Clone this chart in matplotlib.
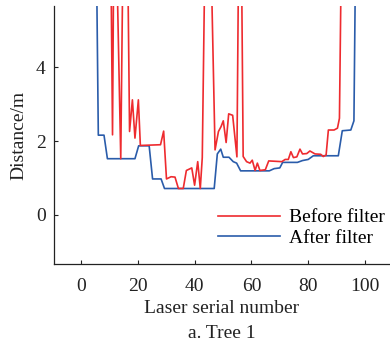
import matplotlib
matplotlib.use("Agg")
import matplotlib.pyplot as plt

plt.rcParams["font.family"] = ["Liberation Serif", "DejaVu Serif"]
plt.rcParams["font.size"] = 14

# readings; 8.0 means the trace runs off the top
before_x = [10.4, 11.1, 11.6, 12.3, 14.0, 14.9, 16.3, 17.1, 18.1, 19.0, 20.2, 20.9,
            28.0, 29.1, 30.1, 31.7, 33.1, 34.3, 36.0, 37.1, 39.0, 40.0, 41.1, 42.0,
            42.7, 43.8, 45.5, 47.2, 48.4, 49.3, 50.1, 51.1, 52.0, 53.4, 54.9, 55.6,
            56.4, 57.1, 58.3, 59.5, 60.3, 61.3, 62.1, 63.0, 64.9, 66.1, 70.7, 71.9,
            73.0, 73.9, 74.8, 76.0, 77.1, 78.0, 79.5, 80.6, 82.4, 84.4, 85.3, 86.3,
            87.1, 89.1, 90.3, 91.0, 91.8]
before_y = [8.0, 2.17, 8.0, 8.0, 1.52, 8.0, 8.0, 2.26, 3.12, 2.08, 3.12, 1.88,
            1.90, 2.27, 0.97, 1.03, 1.02, 0.71, 0.71, 1.20, 1.27, 0.80, 1.44, 0.71,
            1.55, 8.0, 8.0, 1.76, 2.26, 2.39, 2.55, 1.96, 2.74, 2.70, 1.57, 8.0,
            8.0, 1.58, 1.44, 1.40, 1.48, 1.20, 1.40, 1.20, 1.22, 1.46, 1.44, 1.50,
            1.50, 1.71, 1.55, 1.57, 1.78, 1.65, 1.66, 1.73, 1.65, 1.64, 1.58, 1.62,
            2.30, 2.30, 2.35, 2.62, 8.0]

after_x = [5.3, 6.1, 8.1, 9.3, 19.0, 20.3, 24.0, 25.2, 28.2, 29.4, 46.9, 48.0,
           49.2, 50.1, 52.1, 53.6, 54.8, 56.2, 66.3, 68.0, 70.0, 71.0, 76.2, 78.0,
           80.0, 81.8, 90.6, 92.0, 95.0, 96.1, 96.8]
after_y = [8.0, 2.16, 2.16, 1.52, 1.52, 1.87, 1.87, 0.97, 0.97, 0.71, 0.71, 1.65,
           1.78, 1.56, 1.56, 1.44, 1.40, 1.19, 1.19, 1.25, 1.27, 1.42, 1.42, 1.47,
           1.50, 1.60, 1.60, 2.28, 2.30, 2.55, 8.0]

x_ticks = [0, 20, 40, 60, 80, 100]
y_ticks = [0, 2, 4]

fig = plt.figure(figsize=(3.9, 3.45), dpi=100)
ax = fig.add_axes([0.1385, 0.235, 0.8615, 0.7475])

blue, = ax.plot(after_x, after_y, color="#2a5caa", lw=1.2, label="After filter")
red, = ax.plot(before_x, before_y, color="#ee2b2f", lw=1.2, label="Before filter")

ax.set_xlim(-9.5, 108.8)
ax.set_ylim(-1.34, 5.67)
ax.set_xticks(x_ticks)
ax.set_yticks(y_ticks)
ax.tick_params(direction="in", length=3, width=0.8, labelsize=14, colors="#222222", pad=6)
ax.tick_params(axis="x", pad=10)
ax.spines["top"].set_visible(False)
ax.spines["right"].set_visible(False)
for s in ("left", "bottom"):
    ax.spines[s].set_linewidth(0.9)
    ax.spines[s].set_color("#222222")

ax.set_xlabel("Laser serial number", fontsize=14, labelpad=4, color="#222222")
ax.set_ylabel("Distance/m", fontsize=14, labelpad=6, color="#222222")
fig.text(0.569, 0.034, "a. Tree 1", ha="center", va="center", fontsize=14, color="#222222")

ax.legend(handles=[red, blue], loc="upper left", bbox_to_anchor=(0.559, 0.395),
          bbox_transform=fig.transFigure, frameon=False, borderpad=0,
          borderaxespad=0, handlelength=3.2, handletextpad=0.45, labelspacing=0.15,
          fontsize=14)

fig.savefig("out.png", dpi=100)
